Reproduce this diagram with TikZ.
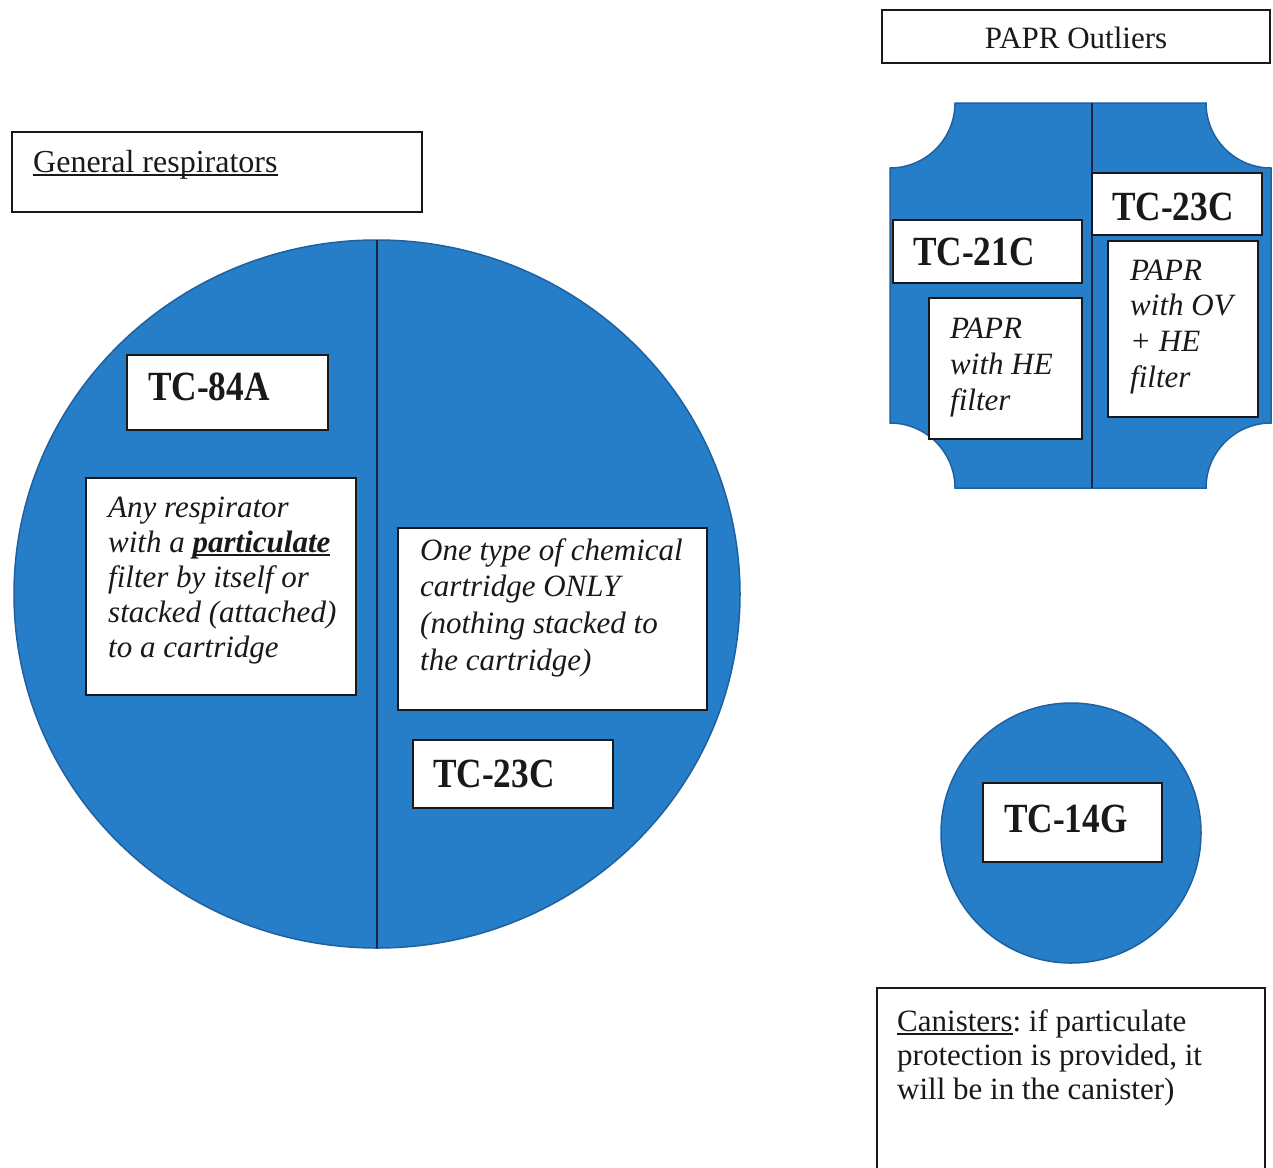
\documentclass[tikz,border=0pt]{standalone}
\usepackage{fontspec}
\usetikzlibrary{shapes.geometric}
\setmainfont{Liberation Serif}
\newfontfamily\tcfont[FakeStretch=0.85]{Liberation Serif}
\frenchspacing
\definecolor{plateblue}{RGB}{38,126,200}
\definecolor{edgeblue}{RGB}{30,96,160}
\definecolor{navy}{RGB}{25,35,70}
\definecolor{ink}{RGB}{25,25,25}
\newcommand\myul[1]{\setbox0\hbox{#1}\rlap{\rule[-0.12em]{\wd0}{0.055em}}\box0}
\newcommand\blocktext[1]{\begin{tabular}[t]{@{}l@{}}#1\end{tabular}}
\tikzset{
  blueshape/.style={fill=plateblue, draw=edgeblue, line width=1.5pt},
  divider/.style={draw=navy, line width=1.5pt},
  whitebox/.style={fill=white, draw=ink, line width=1.2pt, inner sep=0pt, outer sep=0pt, anchor=north west},
  tclabel/.style={anchor=base west, inner sep=0pt, text=ink, font=\tcfont\bfseries\fontsize{41.5}{44}\selectfont},
  itext/.style={anchor=base west, inner sep=0pt, text=ink, font=\itshape\fontsize{31}{#1}\selectfont},
  rtext/.style={anchor=base west, inner sep=0pt, text=ink, font=\fontsize{#1}{34}\selectfont}
}
\begin{document}
\begin{tikzpicture}[x=1pt,y=-1pt]
\useasboundingbox[fill=white] (0,0) rectangle (1273,1167);

% ---------- General respirators ----------
\node[whitebox, minimum width=410, minimum height=80] (genlbl) at (12,132) {};
\node[rtext=32] (gentxt) at (33,172) {\myul{General respirators}};

\node[ellipse, blueshape, inner sep=0pt, outer sep=0pt, minimum width=726, minimum height=708] (gen) at (377,594) {};
\draw[divider] (gen.north) -- (gen.south);

\node[whitebox, minimum width=201, minimum height=75] (b84) at (127,355) {};
\node[tclabel] (t84) at (148,400) {TC-84A};

\node[whitebox, minimum width=270, minimum height=217] (banyb) at (86,478) {};
\node[itext=35] (tany) at (108,517) {\blocktext{Any respirator\\with a \myul{\bfseries particulate}\\filter by itself or\\stacked (attached)\\to a cartridge}};

\node[whitebox, minimum width=309, minimum height=182] (boneb) at (398,528) {};
\node[itext=36.7] (tone) at (420,560) {\blocktext{One type of chemical\\cartridge ONLY\\(nothing stacked to\\the cartridge)}};

\node[whitebox, minimum width=200, minimum height=68] (b23a) at (413,740) {};
\node[tclabel] (t23a) at (433,787) {TC-23C};

% ---------- PAPR Outliers ----------
\node[whitebox, minimum width=388, minimum height=53] (paprlbl) at (882,10) {};
\node[rtext=31, anchor=base] (paprtxt) at (1076,48) {PAPR Outliers};

\draw[blueshape] (955,103) -- (1206,103) arc (180:90:65) -- (1271,423)
  arc (270:180:65) -- (955,488) arc (360:270:65) -- (890,168) arc (90:0:65) -- cycle;
\coordinate (ptop) at (1092,103);
\coordinate (pbot) at (1092,488);
\draw[divider] (ptop) -- (pbot);

\node[whitebox, minimum width=189, minimum height=63] (b21) at (893,220) {};
\node[tclabel] (t21) at (913,265) {TC-21C};

\node[whitebox, minimum width=153, minimum height=141] (bhe) at (929,298) {};
\node[itext=36] (the) at (950,338) {\blocktext{PAPR\\with HE\\filter}};

\node[whitebox, minimum width=170, minimum height=62] (b23b) at (1092,173) {};
\node[tclabel] (t23b) at (1112,220) {TC-23C};

\node[whitebox, minimum width=150, minimum height=176] (bov) at (1108,241) {};
\node[itext=35.7] (tov) at (1130,280) {\blocktext{PAPR\\with OV\\+ HE\\filter}};

% ---------- Canisters ----------
\node[circle, blueshape, inner sep=0pt, minimum size=260] (can) at (1071,833) {};
\node[whitebox, minimum width=179, minimum height=79] (b14) at (983,783) {};
\node[tclabel] (t14) at (1004,832) {TC-14G};

\draw[ink, line width=1.2pt] (877,1180) -- (877,988) -- (1265,988) -- (1265,1180);
\node[rtext=31] (tcan) at (897,1031) {\blocktext{\myul{Canisters}: if particulate\\protection is provided, it\\will be in the canister)}};
\end{tikzpicture}
\end{document}
